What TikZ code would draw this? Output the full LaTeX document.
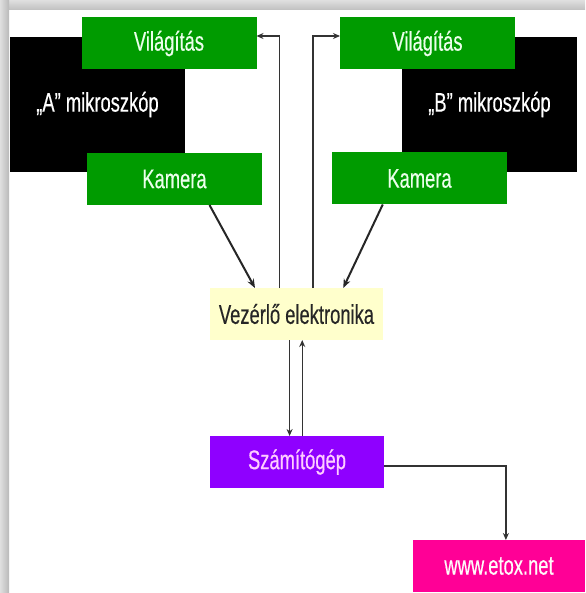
\documentclass[tikz,border=0pt]{standalone}
\usepackage{fontspec}
\setmainfont[FakeStretch=0.68,FakeBold=0.4]{Liberation Sans}
\usetikzlibrary{calc,arrows.meta}
\definecolor{boxgreen}{RGB}{0,155,0}
\definecolor{boxpurple}{RGB}{143,0,255}
\definecolor{pinktext}{RGB}{255,205,255}
\definecolor{boxmagenta}{RGB}{255,0,150}
\definecolor{boxyellow}{RGB}{255,255,204}
\tikzset{
  base/.style={rectangle, inner sep=0pt, outer sep=0pt, font=\fontsize{27}{30}\selectfont},
  blackbox/.style={base, fill=black, text=white, minimum width=175pt, minimum height=135pt},
  greenbox/.style={base, fill=boxgreen, text=white!92!green, minimum width=175pt, minimum height=52pt},
  ctrlbox/.style={base, fill=boxyellow, text=black!85, minimum width=173pt, minimum height=52pt},
  pcbox/.style={base, fill=boxpurple, text=pinktext, minimum width=174pt, minimum height=52pt},
  webbox/.style={base, fill=boxmagenta, text=white!92!pink, minimum width=172pt, minimum height=52pt},
  thinarr/.style={draw=black!80, line width=1.3pt, -{Stealth[length=7pt,width=6pt]}},
  thickarr/.style={draw=black!85, line width=2pt, -{Stealth[length=9pt,width=7pt]}}
}
\begin{document}
\begin{tikzpicture}[x=1pt,y=-1pt]
\useasboundingbox (0,0) rectangle (585,593);
\fill[white] (0,0) rectangle (585,593);
\shade[top color=gray!25, bottom color=gray!50] (0,0) rectangle (585,10);
\shade[left color=gray!25, right color=gray!55] (0,0) rectangle (9,593);
% black microscope boxes
\node[blackbox] (blackA) at (97.5,104.5) {„A” mikroszkóp};
\node[blackbox] (blackB) at (489.5,104.5) {„B” mikroszkóp};
% green boxes
\node[greenbox] (vilA) at (169,43.5) {Világítás};
\node[greenbox] (kamA) at (174.5,179) {Kamera};
\node[greenbox] (vilB) at (427.5,43.5) {Világítás};
\node[greenbox] (kamB) at (419.5,178.5) {Kamera};
% control, pc, web
\node[ctrlbox] (vez) at (296.5,314) {Vezérlő elektronika};
\node[pcbox] (szam) at (297,462) {Számítógép};
\node[webbox] (www) at (499,566) {www.etox.net};
% connectors
\draw[thickarr] ($(kamA.south west)!0.7!(kamA.south east)$) -- ($(vez.north west)!0.26!(vez.north east)$);
\draw[thickarr] ($(kamB.south west)!0.29!(kamB.south east)$) -- ($(vez.north west)!0.77!(vez.north east)$);
\draw[thinarr] ($(vez.north west)!0.4!(vez.north east)$) |- ([yshift=7.5pt]vilA.east);
\draw[thinarr] ($(vez.north west)!0.595!(vez.north east)$) |- ([yshift=7.5pt]vilB.west);
\coordinate (d1) at ($(vez.south west)!0.46!(vez.south east)$);
\coordinate (u1) at ($(szam.north west)!0.53!(szam.north east)$);
\draw[thinarr] (d1) -- (d1 |- szam.north);
\draw[thinarr] (u1) -- (u1 |- vez.south);
\coordinate (w1) at ($(www.north west)!0.54!(www.north east)$);
\draw[thinarr] ([yshift=-4pt]szam.east) -| (w1);
\end{tikzpicture}
\end{document}
